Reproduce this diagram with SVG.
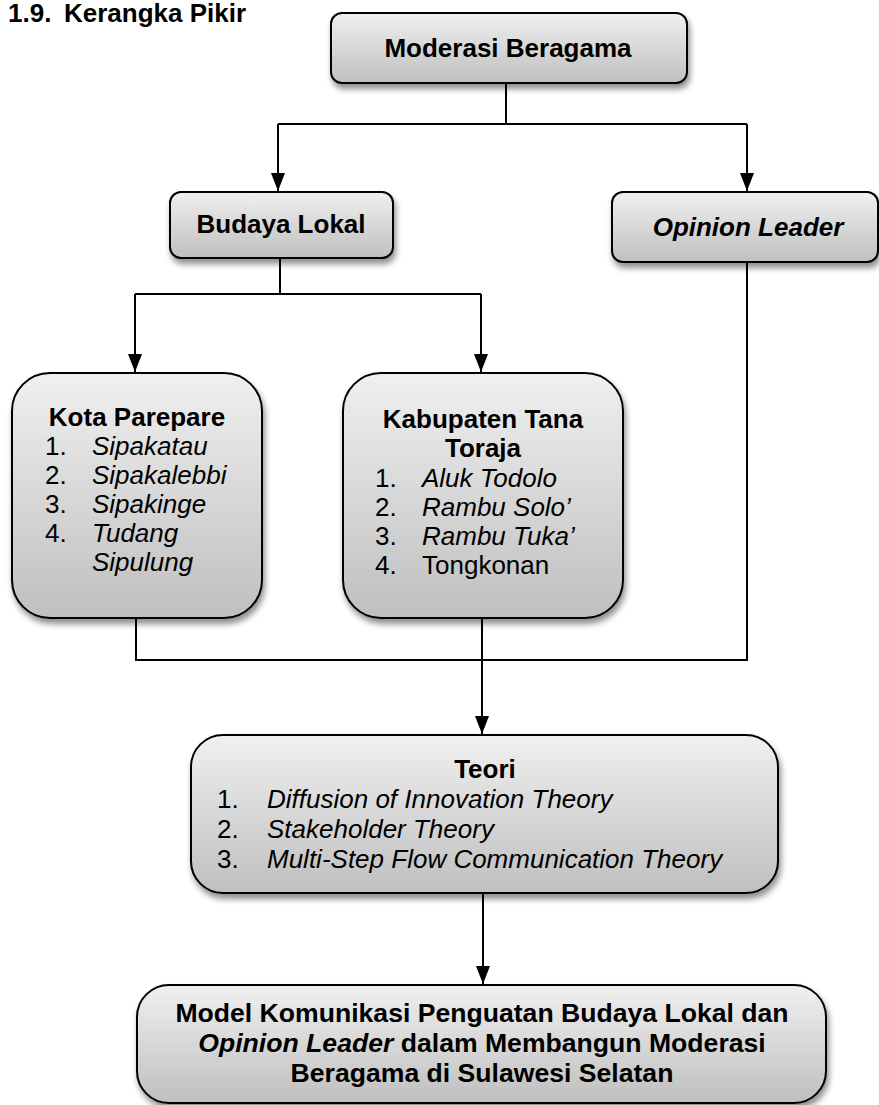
<svg xmlns="http://www.w3.org/2000/svg" width="879" height="1105" viewBox="0 0 879 1105">
<style>
text{font-family:"Liberation Sans",Arial,sans-serif;font-size:26px;fill:#000}
.b{font-weight:bold}
.i{font-style:italic}
.c{text-anchor:middle}
.box{fill:url(#g);stroke:#000;stroke-width:2;filter:url(#sh)}
.ln{fill:none;stroke:#000;stroke-width:2}
</style>
<defs>
<linearGradient id="g" x1="0" y1="0" x2="0" y2="1">
<stop offset="0" stop-color="#f0f0f0"/>
<stop offset="1" stop-color="#bfbfbf"/>
</linearGradient>
<filter id="sh" x="-10%" y="-10%" width="125%" height="130%">
<feGaussianBlur in="SourceAlpha" stdDeviation="3"/>
<feOffset dx="2" dy="5" result="o"/>
<feComponentTransfer><feFuncA type="linear" slope="0.45"/></feComponentTransfer>
<feMerge><feMergeNode/><feMergeNode in="SourceGraphic"/></feMerge>
</filter>
<marker id="ah" markerUnits="userSpaceOnUse" markerWidth="18" markerHeight="16" refX="18" refY="8" orient="auto">
<path d="M0,1 L18,8 L0,15 Z" fill="#000"/>
</marker>
</defs>

<g id="title">
<text class="b" x="8" y="22">1.9.</text>
<text class="b" x="64" y="22">Kerangka Pikir</text>
</g>

<g id="connectors">
<path class="ln" d="M506,83 V124 M278,124 H747"/>
<path class="ln" d="M278,124 V191" marker-end="url(#ah)"/>
<path class="ln" d="M747,124 V191" marker-end="url(#ah)"/>
<path class="ln" d="M280,258 V294 M135,294 H481"/>
<path class="ln" d="M135,294 V372" marker-end="url(#ah)"/>
<path class="ln" d="M481,294 V372" marker-end="url(#ah)"/>
<path class="ln" d="M136,618 V660 H747 V262"/>
<path class="ln" d="M482,618 V734" marker-end="url(#ah)"/>
<path class="ln" d="M483,893 V984" marker-end="url(#ah)"/>
</g>

<g id="moderasi">
<rect class="box" x="331" y="13" width="356" height="70" rx="11"/>
<text class="b c" x="508" y="57">Moderasi Beragama</text>
</g>

<g id="budaya">
<rect class="box" x="170" y="192" width="223" height="66" rx="11"/>
<text class="b c" x="281" y="233">Budaya Lokal</text>
</g>

<g id="opinion">
<rect class="box" x="612" y="192" width="266" height="70" rx="11"/>
<text class="b i c" x="748" y="236">Opinion Leader</text>
</g>

<g id="parepare">
<rect class="box" x="12" y="373" width="250" height="245" rx="38"/>
<text class="b c" x="137" y="426">Kota Parepare</text>
<text x="45" y="455">1.</text><text class="i" x="92" y="455">Sipakatau</text>
<text x="45" y="484">2.</text><text class="i" x="92" y="484">Sipakalebbi</text>
<text x="45" y="513">3.</text><text class="i" x="92" y="513">Sipakinge</text>
<text x="45" y="542">4.</text><text class="i" x="92" y="542">Tudang</text>
<text class="i" x="92" y="571">Sipulung</text>
</g>

<g id="toraja">
<rect class="box" x="343" y="373" width="280" height="245" rx="38"/>
<text class="b c" x="483" y="428">Kabupaten Tana</text>
<text class="b c" x="483" y="457">Toraja</text>
<text x="375" y="487">1.</text><text class="i" x="422" y="487">Aluk Todolo</text>
<text x="375" y="516">2.</text><text class="i" x="422" y="516">Rambu Solo’</text>
<text x="375" y="545">3.</text><text class="i" x="422" y="545">Rambu Tuka’</text>
<text x="375" y="574">4.</text><text x="422" y="574">Tongkonan</text>
</g>

<g id="teori">
<rect class="box" x="191" y="735" width="587" height="158" rx="32"/>
<text class="b c" x="485" y="778">Teori</text>
<text x="217" y="808">1.</text><text class="i" x="267" y="808">Diffusion of Innovation Theory</text>
<text x="217" y="838">2.</text><text class="i" x="267" y="838">Stakeholder Theory</text>
<text x="217" y="868">3.</text><text class="i" x="267" y="868">Multi-Step Flow Communication Theory</text>
</g>

<g id="model">
<rect class="box" x="137" y="985" width="689" height="118" rx="32"/>
<text class="b c" x="482" y="1022" style="font-size:26.6px">Model Komunikasi Penguatan Budaya Lokal dan</text>
<text class="b c" x="482" y="1052" style="font-size:26.6px"><tspan class="i">Opinion Leader</tspan> dalam Membangun Moderasi</text>
<text class="b c" x="482" y="1082" style="font-size:26.6px">Beragama di Sulawesi Selatan</text>
</g>
</svg>
